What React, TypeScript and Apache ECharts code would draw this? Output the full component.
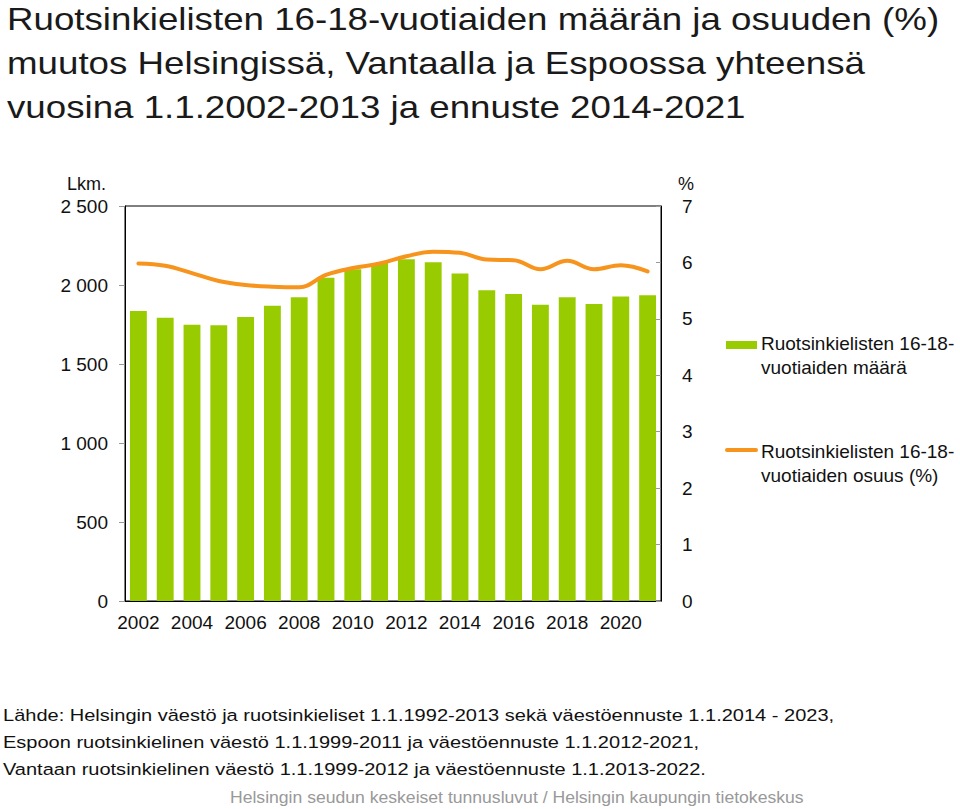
import React, { useEffect, useRef } from "react";
import * as echarts from "echarts";

const years = ["2002","2003","2004","2005","2006","2007","2008","2009","2010","2011","2012","2013","2014","2015","2016","2017","2018","2019","2020","2021"];
const counts = [1835, 1793, 1749, 1745, 1797, 1869, 1922, 2046, 2100, 2140, 2163, 2144, 2072, 1966, 1943, 1875, 1922, 1880, 1928, 1935];
const shares = [5.98, 5.94, 5.81, 5.67, 5.60, 5.57, 5.56, 5.78, 5.90, 5.98, 6.11, 6.19, 6.17, 6.05, 6.04, 5.88, 6.03, 5.88, 5.95, 5.84];

const titleLines = [
  "Ruotsinkielisten 16-18-vuotiaiden määrän ja osuuden (%)",
  "muutos Helsingissä, Vantaalla ja Espoossa yhteensä",
  "vuosina 1.1.2002-2013 ja ennuste 2014-2021",
];
const sourceLines = [
  "Lähde: Helsingin väestö ja ruotsinkieliset 1.1.1992-2013 sekä väestöennuste 1.1.2014 - 2023,",
  "Espoon ruotsinkielinen väestö 1.1.1999-2011 ja väestöennuste 1.1.2012-2021,",
  "Vantaan ruotsinkielinen väestö 1.1.1999-2012 ja väestöennuste 1.1.2013-2022.",
];
const footer = "Helsingin seudun keskeiset tunnusluvut / Helsingin kaupungin tietokeskus";
const legendNames = ["Ruotsinkielisten 16-18-\nvuotiaiden määrä", "Ruotsinkielisten 16-18-\nvuotiaiden osuus (%)"];

const FONT = "'Liberation Sans', Arial, sans-serif";
const GREEN = "#99cc00";
const ORANGE = "#f7941d";

function txt(text: string, x: number, y: number, size: number, fill: string, scaleX = 1, lineHeight?: number) {
  return {
    type: "text", x, y, scaleX,
    style: { text, font: `${size}px ${FONT}`, fill, align: "left", verticalAlign: "top", lineHeight },
  };
}

export default function App() {
  const ref = useRef<HTMLDivElement>(null);
  useEffect(() => {
    if (!ref.current) return;
    const chart = echarts.init(ref.current, null, { renderer: "svg" });
    const graphics: any[] = [];
    titleLines.forEach((t, i) => graphics.push(txt(t, 7, 3 + i * 44, 32, "#1a1a1a", 1.147)));
    sourceLines.forEach((t, i) => graphics.push(txt(t, 3, 707 + i * 27, 17, "#111", 1.178)));
    graphics.push(txt(footer, 230, 790, 16, "#999", 1.1));
    graphics.push(txt("Lkm.", 67, 175, 18, "#111"));
    graphics.push(txt("%", 678, 175, 18, "#111"));
    // legend
    graphics.push({ type: "rect", shape: { x: 726, y: 341, width: 31, height: 8 }, style: { fill: GREEN } });
    graphics.push(txt(legendNames[0], 761, 331, 19, "#111", 1, 24));
    graphics.push({ type: "line", shape: { x1: 727, y1: 450, x2: 756, y2: 450 }, style: { stroke: ORANGE, lineWidth: 4, lineCap: "round" } });
    graphics.push(txt(legendNames[1], 761, 439, 19, "#111", 1, 24));

    chart.setOption({
      animation: false,
      backgroundColor: "#fff",
      textStyle: { fontFamily: FONT },
      grid: { left: 125, right: 299, top: 206, bottom: 208, show: true, borderColor: "#000", borderWidth: 1, containLabel: false },
      xAxis: {
        type: "category",
        data: years,
        boundaryGap: true,
        axisLine: { lineStyle: { color: "#000", width: 1 } },
        axisTick: { alignWithLabel: false, interval: 0, length: 6, lineStyle: { color: "#999" } },
        axisLabel: { interval: 1, color: "#111", fontSize: 19, margin: 12 },
      },
      yAxis: [
        {
          type: "value", min: 0, max: 2500, interval: 500,
          axisLine: { show: true, lineStyle: { color: "#000" } },
          axisTick: { show: true, length: 6, lineStyle: { color: "#999" } },
          splitLine: { show: false },
          axisLabel: {
            color: "#111", fontSize: 19, margin: 17,
            formatter: (v: number) => (v >= 1000 ? String(v).replace(/\B(?=(\d{3})+(?!\d))/g, " ") : String(v)),
          },
        },
        {
          type: "value", min: 0, max: 7, interval: 1, position: "right",
          axisLine: { show: true, lineStyle: { color: "#000" } },
          axisTick: { show: true, inside: true, length: 5, lineStyle: { color: "#999" } },
          splitLine: { show: false },
          axisLabel: { color: "#111", fontSize: 19, margin: 21 },
        },
      ],
      series: [
        {
          name: "count", type: "bar", data: counts, yAxisIndex: 0,
          barCategoryGap: "37%", itemStyle: { color: GREEN }, silent: true,
        },
        {
          name: "share", type: "line", data: shares, yAxisIndex: 1,
          smooth: 0.4, showSymbol: false, symbol: "none",
          lineStyle: { color: ORANGE, width: 4, cap: "round" }, silent: true,
        },
      ],
      graphic: graphics,
    });
    return () => chart.dispose();
  }, []);
  return <div ref={ref} style={{ position: "fixed", left: 0, top: 0, width: 960, height: 809 }} />;
}
